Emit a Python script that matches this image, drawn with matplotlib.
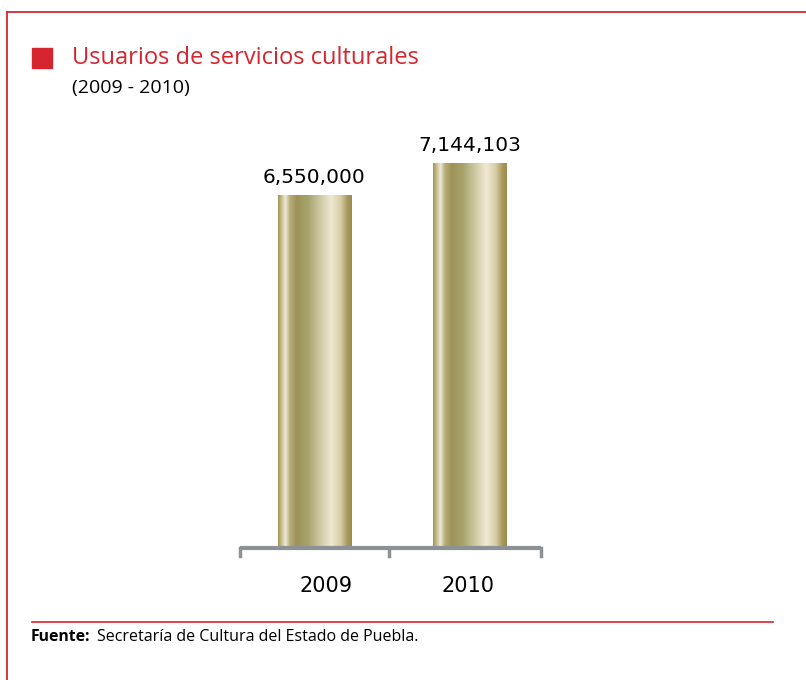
import numpy as np
import matplotlib.pyplot as plt
from matplotlib.colors import LinearSegmentedColormap
from matplotlib.patches import Rectangle

years = ['2009', '2010']
usuarios = [6550000, 7144103]
etiquetas = ['6,550,000', '7,144,103']

titulo = 'Usuarios de servicios culturales'
subtitulo = '(2009 - 2010)'
fuente = 'Secretaría de Cultura del Estado de Puebla.'

rojo = '#d7252f'

W, H = 806, 680
fig = plt.figure(figsize=(W / 100, H / 100), dpi=100)

def fx(px):
    return px / W

def fy(py):
    return 1 - py / H

# marco rojo (arriba e izquierda)
fig.add_artist(plt.Line2D([fx(7), fx(806)], [fy(12), fy(12)], color=rojo, lw=1.3))
fig.add_artist(plt.Line2D([fx(7), fx(7)], [fy(12), fy(680)], color=rojo, lw=1.3))
# linea separadora sobre la fuente
fig.add_artist(plt.Line2D([fx(32), fx(773)], [fy(622), fy(622)], color=rojo, lw=1.2))

# cuadro del titulo
fig.add_artist(Rectangle((fx(32), fy(68)), fx(20), 20 / H, color=rojo, transform=fig.transFigure))
fig.text(fx(72), fy(58), titulo, color=rojo, fontsize=17, family='Open Sans', va='center')
fig.text(fx(72), fy(88), subtitulo, color='black', fontsize=14, family='Open Sans', va='center')

fig.text(fx(31), fy(637), 'Fuente:', fontsize=11.3, family='Open Sans', weight='bold', va='center')
fig.text(fx(97), fy(637), fuente, fontsize=11.5, family='Open Sans', va='center')

# ejes: 155.5 px por categoria, 2009 centrado en x=314.5
ax = fig.add_axes([fx(240), fy(548), fx(541) - fx(240), 431 / H])
x0, x1 = (240 - 314.5) / 155.5, (541 - 314.5) / 155.5
ax.axis('off')

cmap = LinearSegmentedColormap.from_list('oro', [
    (0.00, '#a39650'), (0.05, '#c8c090'), (0.10, '#efeadb'), (0.16, '#b8ae78'),
    (0.25, '#9e9358'), (0.40, '#a6a26c'), (0.55, '#c9c49c'), (0.72, '#efe9d2'),
    (0.85, '#d6cda6'), (0.94, '#a8995a'), (1.00, '#9a8b4c')])
grad = np.linspace(0, 1, 256).reshape(1, -1)

bw = 0.47
bars = ax.bar(range(len(years)), usuarios, width=bw, color='none', edgecolor='none')
for b in bars:
    bx, w, h = b.get_x(), b.get_width(), b.get_height()
    im = ax.imshow(grad, cmap=cmap, aspect='auto', extent=[bx, bx + w, 0, h], zorder=2)
    im.set_clip_path(b)

ax.set_xlim(x0, x1)
ax.set_ylim(0, 8.0e6)

desplaz = [12, -2]
for i, (v, t) in enumerate(zip(usuarios, etiquetas)):
    ax.text(i, v + 1.5e5, t, ha='center', va='bottom', fontsize=14.5, family='DejaVu Sans')
    ax.annotate(years[i], (i, 0), xytext=(desplaz[i], -38), textcoords='offset pixels',
                ha='center', va='center', fontsize=15, family='DejaVu Sans')

# linea base con marcas (en fraccion de ejes)
gris = '#8c9196'
ax.plot([0, 1], [0, 0], color=gris, lw=3, clip_on=False, solid_capstyle='butt',
        transform=ax.transAxes)
for xt in [0, 149 / 301, 1]:
    ax.plot([xt, xt], [0, -0.018], color=gris, lw=2.5, clip_on=False, transform=ax.transAxes)

fig.savefig('out.png', dpi=100)
